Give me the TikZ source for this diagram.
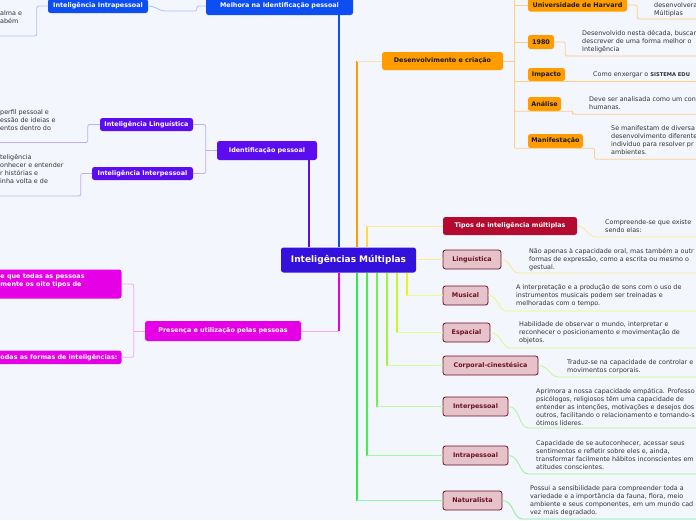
\documentclass[tikz,border=0pt]{standalone}
\usepackage{fontspec}
\setmainfont{DejaVu Sans}
\definecolor{fundo}{HTML}{F3F6FD}
\definecolor{raizcor}{HTML}{3410DC}
\definecolor{azul}{HTML}{0D4EF2}
\definecolor{violeta}{HTML}{5C0DF0}
\definecolor{laranja}{HTML}{FF9D00}
\definecolor{rosa}{HTML}{E600E6}
\definecolor{carmim}{HTML}{B30A2F}
\definecolor{rosado}{HTML}{E6C3CA}
\definecolor{vinho}{HTML}{6E1020}
\definecolor{cinza}{HTML}{333333}
\definecolor{preto}{HTML}{1A1A1A}
\definecolor{amarelo}{HTML}{FFD93D}
\definecolor{verdeA}{HTML}{E2F71C}
\definecolor{verdeB}{HTML}{C3FA2E}
\definecolor{verdeC}{HTML}{9CF83A}
\definecolor{verdeD}{HTML}{6FF248}
\definecolor{verdeE}{HTML}{47EE4A}
\definecolor{verdeF}{HTML}{2BEA4C}

\begin{document}
\begin{tikzpicture}[x=1pt,y=-1pt,
    caixa/.style={rounded corners=2.5pt,inner sep=0pt,align=center,
                  font=\bfseries\fontsize{6.4}{8}\selectfont},
    tipo/.style={caixa,fill=rosado,draw=vinho,line width=0.8pt,text=vinho,
                 minimum height=19pt},
    galho/.style={caixa,fill=laranja,text=preto},
    texto/.style={anchor=north west,inner sep=0pt,align=left,text=cinza,
                  font=\fontsize{6.4}{8}\selectfont},
    ramo/.style={line width=1.2pt},
    fio/.style={line width=0.8pt,rounded corners=2pt}]
  \useasboundingbox (0,0) rectangle (696,520);
  \fill[fundo] (0,0) rectangle (696,520);
  \clip (0,0) rectangle (696,520);

  % centro
  \node[caixa,fill=raizcor,text=white,font=\bfseries\fontsize{9}{11}\selectfont,
        minimum width=135pt,minimum height=25pt] (raiz) at (348.5,260) {Inteligências Múltiplas};

  % ramos da esquerda
  \node[caixa,fill=azul,text=white,minimum width=147pt,minimum height=18pt] (melhora) at (279.5,6) {Melhora na Identificação pessoal};
  \node[caixa,fill=azul,text=white,minimum width=100pt,minimum height=14pt] (intraB) at (98,6) {Inteligência Intrapessoal};
  \node[texto] (intraBtxt) at (0,10.8) {alma e\\abém};

  \node[caixa,fill=violeta,text=white,minimum width=100pt,minimum height=19pt] (ident) at (267,150.5) {Identificação pessoal};
  \node[caixa,fill=violeta,text=white,minimum width=93pt,minimum height=13pt] (lingV) at (146.5,124.5) {Inteligência Linguística};
  \node[caixa,fill=violeta,text=white,minimum width=101pt,minimum height=13pt] (interV) at (142.5,173.5) {Inteligência Interpessoal};
  \node[texto] (lingVtxt) at (0,109.8) {perfil pessoal e\\essão de ideias e\\entos dentro do};
  \node[texto] (interVtxt) at (0,153.8) {teligência\\onhecer e entender\\r histórias e\\inha volta e de};

  \node[caixa,fill=rosa,text=white,minimum width=156pt,minimum height=20pt] (presenca) at (223,331) {Presença e utilização pelas pessoas};
  \node[caixa,fill=rosa,minimum width=130pt,minimum height=29pt] (presA) at (56.5,284) {};
  \node[texto,text=white,font=\bfseries\fontsize{6.4}{8}\selectfont] (presAtxt) at (0.3,273.3) {e que todas as pessoas\\mente os oito tipos de};
  \node[caixa,fill=rosa,minimum width=130pt,minimum height=13.5pt] (presB) at (56.5,357.3) {};
  \node[texto,text=white,font=\bfseries\fontsize{6.4}{8}\selectfont] (presBtxt) at (0.3,354.1) {odas as formas de inteligências:};

  % desenvolvimento
  \node[galho,minimum width=121pt,minimum height=18pt] (desenv) at (442.5,61) {Desenvolvimento e criação};
  \node[galho,minimum width=99pt,minimum height=13pt] (harvard) at (577.5,5) {Universidade de Harvard};
  \node[galho,minimum width=26pt,minimum height=14pt] (ano) at (541,42) {1980};
  \node[galho,minimum width=37pt,minimum height=13pt] (impacto) at (546.5,74.5) {Impacto};
  \node[galho,minimum width=33pt,minimum height=14pt] (analise) at (544.5,104) {Análise};
  \node[galho,minimum width=55pt,minimum height=14pt] (manif) at (555.5,141) {Manifestação};
  \node[texto] (harvardtxt) at (654,2.8) {desenvolvera\\Múltiplas};
  \node[texto] (anotxt) at (582,29.8) {Desenvolvido nesta década, buscar\\descrever de uma forma melhor o\\Inteligência};
  \node[texto] (impactotxt) at (593,71.8) {Como enxergar o {\bfseries\fontsize{5.2}{8}\selectfont SISTEMA EDU}};
  \node[texto] (analisetxt) at (589,96.8) {Deve ser analisada como um con\\humanas.};
  \node[texto] (maniftxt) at (611,125.8) {Se manifestam de diversa\\desenvolvimento diferente\\indivíduo para resolver pr\\ambientes.};

  % tipos
  \node[caixa,fill=carmim,text=white,minimum width=134pt,minimum height=18pt] (tipos) at (510,226) {Tipos de inteligência múltiplas};
  \node[texto] (tipostxt) at (605,219.8) {Compreende-se que existe\\sendo elas:};
  \node[tipo,minimum width=58pt] (ling) at (472,259.5) {Linguística};
  \node[tipo,minimum width=45pt] (musical) at (465.5,295.5) {Musical};
  \node[tipo,minimum width=47pt] (espacial) at (466.5,332.5) {Espacial};
  \node[tipo,minimum width=95pt] (corporal) at (490.5,365.5) {Corporal-cinestésica};
  \node[tipo,minimum width=65pt] (interp) at (475.5,406.5) {Interpessoal};
  \node[tipo,minimum width=65pt] (intra) at (475.5,455.5) {Intrapessoal};
  \node[tipo,minimum width=59pt] (natur) at (472.5,500.5) {Naturalista};
  \node[texto] (lingtxt) at (529,247.8) {Não apenas à capacidade oral, mas também a outr\\formas de expressão, como a escrita ou mesmo o\\gestual.};
  \node[texto] (musicaltxt) at (516,284.8) {A interpretação e a produção de sons com o uso de\\instrumentos musicais podem ser treinadas e\\melhoradas com o tempo.};
  \node[texto] (espacialtxt) at (519,321.8) {Habilidade de observar o mundo, interpretar e\\reconhecer o posicionamento e movimentação de\\objetos.};
  \node[texto] (corporaltxt) at (567,359.8) {Traduz-se na capacidade de controlar e\\movimentos corporais.};
  \node[texto] (interptxt) at (536,387.8) {Aprimora a nossa capacidade empática. Professo\\psicólogos, religiosos têm uma capacidade de\\entender as intenções, motivações e desejos dos\\outros, facilitando o relacionamento e tornando-s\\ótimos líderes.};
  \node[texto] (intratxt) at (536,440.8) {Capacidade de se autoconhecer, acessar seus\\sentimentos e refletir sobre eles e, ainda,\\transformar facilmente hábitos inconscientes em\\atitudes conscientes.};
  \node[texto] (naturtxt) at (530,485.8) {Possui a sensibilidade para compreender toda a\\variedade e a importância da fauna, flora, meio\\ambiente e seus componentes, em um mundo cad\\vez mais degradado.};

  % ligações
  \coordinate (xMel) at (339,0);
  \coordinate (xIde) at (309,0);
  \coordinate (xDes) at (357,0);
  \coordinate (xTip) at (367,0);
  \coordinate (eixo) at (514.5,-5);

  \draw[ramo,azul] (raiz.north -| xMel) -- (melhora.south -| xMel);
  \draw[fio,azul!35] (melhora.west) -- ++(-9,0) -- ++(0,5) -- ++(-30,0) to[out=180,in=0] (intraB.east);
  \draw[fio,azul!35] (intraB.west) -- ++(-11,0) |- ++(-40,30);

  \draw[ramo,violeta] (raiz.north -| xIde) -- (ident.south -| xIde);
  \draw[fio,violeta!35] (ident.west) -- ++(-11,0);
  \draw[fio,violeta!35] (lingV.east) -| ([xshift=-11pt]ident.west) |- (interV.east);
  \draw[fio,violeta!35] (lingV.west) -- ++(-12,0) |- ++(-100,18);
  \draw[fio,violeta!35] (interV.west) -- ++(-11,0) |- ++(-100,22.5);

  \draw[ramo,rosa] (raiz.south -| xMel) -- (xMel |- presenca.east);
  \draw[fio,rosa!35] (xMel |- presenca.east) -- (presenca.east);
  \draw[fio,rosa!35] (presenca.west) -- ++(-11,0);
  \draw[fio,rosa!35] (presA.east) -| ([xshift=-11pt]presenca.west) |- (presB.east);

  \draw[ramo,laranja] (raiz.north -| xDes) -- (xDes |- desenv.west);
  \draw[fio,laranja!30] (xDes |- desenv.west) -- (desenv.west);
  \draw[fio,laranja!50] (desenv.east) -- (desenv.east -| eixo);
  \draw[fio,laranja!50] (eixo) -- (eixo |- manif.south);
  \draw[fio,laranja!50] (eixo |- harvard.west) -- (harvard.west);
  \draw[fio,laranja!50] (harvard.east) -- ++(10,0) |- ++(60,14);
  \draw[fio,laranja!50] (eixo |- ano.west) -- (ano.west);
  \draw[fio,laranja!50] (ano.east) -- ++(11,0) |- ++(140,14);
  \draw[fio,laranja!50] (eixo |- impacto.south) -- ++(190,0);
  \draw[fio,laranja!50] (eixo |- analise.south) -- ++(58,0) |- ++(130,3);
  \draw[fio,laranja!50] (eixo |- manif.south) -- ++(80,0) |- ++(110,11);

  \draw[ramo,amarelo] (raiz.north -| xTip) -- (xTip |- tipos.west);
  \draw[fio,amarelo!55] (xTip |- tipos.west) -- (tipos.west);
  \draw[fio,amarelo!55] (tipos.east) to[out=0,in=180] ++(20,11) -- ++(150,0);
  \draw[fio,amarelo!60] (raiz.east |- ling.west) -- (ling.west);
  \draw[fio,amarelo!60] (ling.east) to[out=0,in=180] ++(19,13.5) -- ++(200,0);

  \foreach \no/\xx/\cor/\dx/\dy in {musical/407/verdeA/20/15.5,espacial/397/verdeB/22/15.5,
      corporal/387/verdeC/22/11.5,interp/377/verdeD/22/21.5,
      intra/367/verdeE/22/18.5,natur/357/verdeF/22/18.5}{
    \coordinate (b) at (\xx,0);
    \draw[ramo,\cor] (raiz.south -| b) -- (b |- \no.west);
    \draw[fio,\cor!50] (b |- \no.west) -- (\no.west);
    \draw[fio,\cor!60] (\no.east) to[out=0,in=180] ++(\dx,\dy) -- ++(200,0);
  }
\end{tikzpicture}
\end{document}
